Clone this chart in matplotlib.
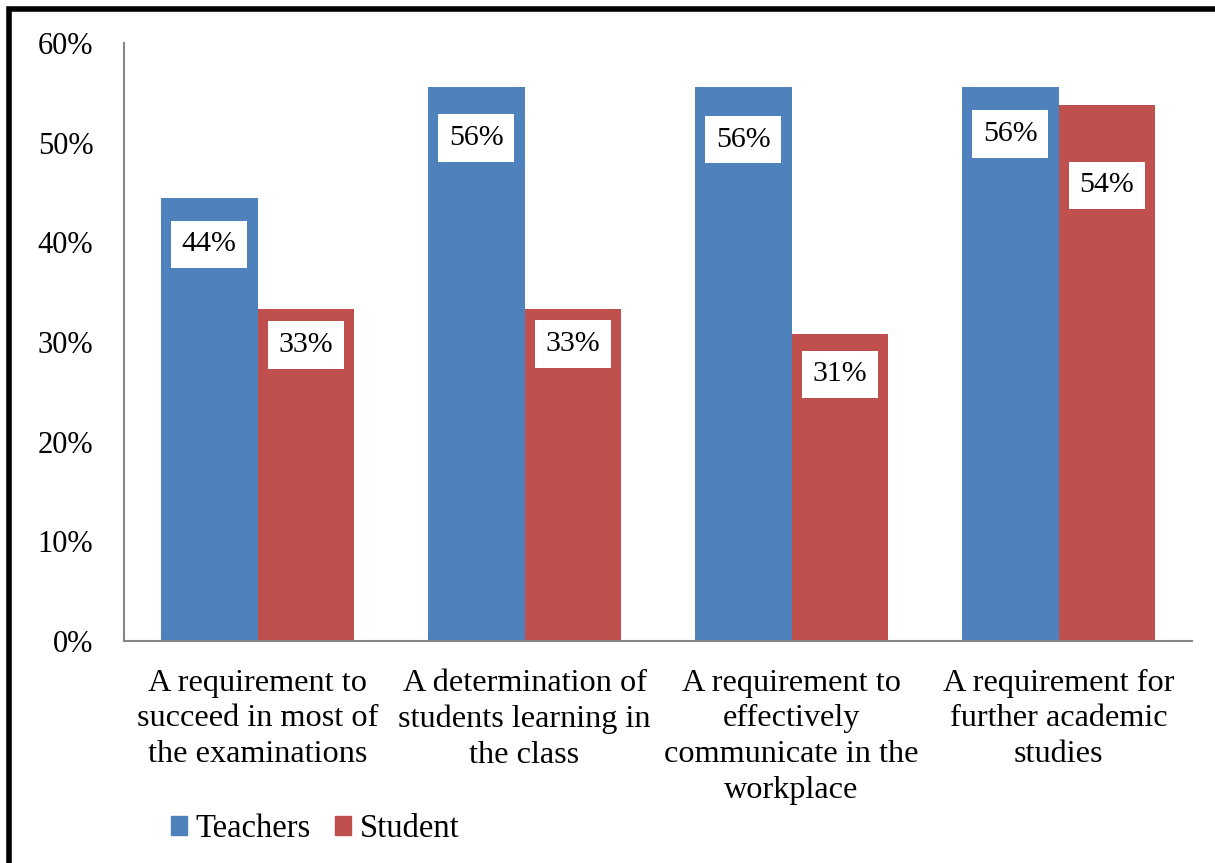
import matplotlib
matplotlib.use("Agg")
import matplotlib.pyplot as plt
from matplotlib.lines import Line2D
from matplotlib.patches import Patch
import numpy as np

plt.rcParams['font.family'] = ['Liberation Serif', 'DejaVu Serif']

categories = [
    "A requirement to\nsucceed in most of\nthe examinations",
    "A determination of\nstudents learning in\nthe class",
    "A requirement to\neffectively\ncommunicate in the\nworkplace",
    "A requirement for\nfurther academic\nstudies",
]
series_names = ["Teachers", "Student"]
teachers = [0.444, 0.556, 0.556, 0.556]
students = [0.333, 0.333, 0.308, 0.538]
y_ticks = [0.0, 0.1, 0.2, 0.3, 0.4, 0.5, 0.6]

colors = ["#4F81BD", "#C0504D"]
# label drop below bar top, in points
teacher_label_drop = [33, 37, 38, 34]
student_label_drop = [26, 25, 29, 58]

fig = plt.figure(figsize=(12.15, 8.63), dpi=100)
ax = fig.add_axes([0.1021, 0.2572, 0.879, 0.693])

x = np.arange(len(categories))
w = 0.363
b1 = ax.bar(x - w / 2, teachers, w, color=colors[0], label=series_names[0])
b2 = ax.bar(x + w / 2, students, w, color=colors[1], label=series_names[1])

for bars, vals, drops in [(b1, teachers, teacher_label_drop), (b2, students, student_label_drop)]:
    for rect, v, d in zip(bars, vals, drops):
        ax.annotate(f"{v:.0%}", (rect.get_x() + rect.get_width() / 2, v),
                    xytext=(0, -d), textcoords="offset points",
                    ha="center", va="center", fontsize=21.5,
                    bbox=dict(boxstyle="square,pad=0.36", fc="white", ec="none"))

ax.set_xlim(-0.5, len(categories) - 0.5)
ax.set_ylim(0, 0.6)
ax.set_yticks(y_ticks)
ax.set_yticklabels([f"{t:.0%}" for t in y_ticks], fontsize=22)
ax.set_xticks(x)
ax.set_xticklabels(categories, fontsize=23.2, linespacing=1.3)
ax.tick_params(axis="both", length=0)
ax.tick_params(axis="y", pad=22)
ax.tick_params(axis="x", pad=20)
for s in ["top", "right"]:
    ax.spines[s].set_visible(False)
for s in ["left", "bottom"]:
    ax.spines[s].set_color("#868686")
    ax.spines[s].set_linewidth(1.5)

handles = [Patch(color=c, label=n) for c, n in zip(colors, series_names)]
fig.legend(handles=handles, loc="center left", bbox_to_anchor=(0.1405, 0.0395),
           frameon=False, ncol=2, fontsize=23.5, borderpad=0, borderaxespad=0,
           handlelength=0.5, handleheight=0.5, handletextpad=0.25,
           columnspacing=0.75)

# frame drawn along left and top edges
fig.add_artist(Line2D([0.0078, 0.0078, 1.01], [-0.01, 0.990, 0.990],
                      transform=fig.transFigure, color="black", lw=4,
                      solid_joinstyle="miter"))

fig.savefig("out.png", dpi=100)
